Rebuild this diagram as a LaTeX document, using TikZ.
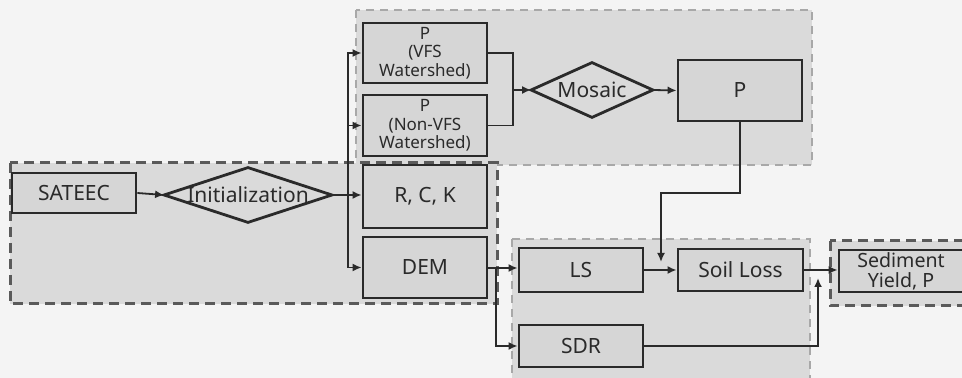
\documentclass[tikz,border=0pt]{standalone}
\usepackage{fontspec}
\setmainfont{Noto Sans}
\usetikzlibrary{arrows.meta}
\definecolor{bgc}{HTML}{F4F4F4}
\definecolor{regc}{HTML}{DADADA}
\definecolor{boxc}{HTML}{D6D6D6}
\definecolor{inkc}{HTML}{2A2A2A}
\definecolor{darkdash}{HTML}{5A5A5A}
\definecolor{lightdash}{HTML}{A8A8A8}
\tikzset{
  regdark/.style={fill=regc, draw=darkdash, line width=1.5pt, dash pattern=on 5pt off 3pt},
  reglight/.style={fill=regc, draw=lightdash, line width=1pt, dash pattern=on 4pt off 3pt},
  boxn/.style={draw=inkc, fill=boxc, line width=1.4pt, inner sep=0pt, align=center,
    font=\fontsize{10.5}{12}\selectfont, text=inkc},
  smalltxt/.style={font=\fontsize{8.5}{9.2}\selectfont},
  sedtxt/.style={font=\fontsize{9.8}{10}\selectfont},
  dianode/.style={draw=none, inner sep=0pt, font=\fontsize{10.5}{12}\selectfont, text=inkc},
  diaborder/.style={draw=inkc, line width=1.4pt, line join=miter},
  conn/.style={draw=inkc, line width=0.9pt},
  arr/.style={conn, -{Latex[length=4.5pt,width=4pt]}}
}
\begin{document}
\begin{tikzpicture}[x=0.5pt, y=-0.5pt]
\useasboundingbox (0,0) rectangle (962,378);
\clip (0,0) rectangle (962,378);
\fill[bgc] (0,0) rectangle (962,378);
% regions
\path[reglight] (356,10) rectangle (812,165);
\path[reglight] (512,239) rectangle (810,400);
\path[regdark] (10,163) rectangle (497,304);
\path[regdark] (830,241) rectangle (1000,306);
% boxes
\node[boxn, minimum width=62pt, minimum height=20pt] (sateec) at (74,193) {SATEEC};
\node[dianode, minimum width=83.5pt, minimum height=27pt] (init) at (248,195) {Initialization};
\node[boxn, minimum width=62pt, minimum height=31.5pt] (rck) at (425,196.5) {R, C, K};
\node[boxn, minimum width=62pt, minimum height=30.5pt] (dem) at (425,267.5) {DEM};
\node[boxn, smalltxt, minimum width=62pt, minimum height=30pt] (pvfs) at (425,53) {P\\(VFS\\Watershed)};
\node[boxn, smalltxt, minimum width=62pt, minimum height=30.5pt] (pnon) at (425,125.5) {P\\(Non-VFS\\Watershed)};
\node[dianode, minimum width=60.5pt, minimum height=27pt] (mosaic) at (592,90) {Mosaic};
\node[boxn, minimum width=62pt, minimum height=30.5pt] (pbox) at (740,90.5) {P};
\node[boxn, minimum width=62pt, minimum height=22pt] (ls) at (581,270) {LS};
\node[boxn, minimum width=62pt, minimum height=21pt] (sdr) at (581,346) {SDR};
\node[boxn, minimum width=62.5pt, minimum height=21pt] (soil) at (740.5,270) {Soil Loss};
\node[boxn, sedtxt, minimum width=62pt, minimum height=21pt] (sed) at (901,271) {Sediment\\Yield, P};
% diamonds
\draw[diaborder] (init.west) -- (init.north) -- (init.east) -- (init.south) -- cycle;
\draw[diaborder] (mosaic.west) -- (mosaic.north) -- (mosaic.east) -- (mosaic.south) -- cycle;
% junction coordinates
\coordinate (br) at (348,195);
\coordinate (mj) at (513,90);
\coordinate (pin) at (661,262);
\coordinate (dj) at (496,268);
\coordinate (sin) at (818,278);
% connectors
\draw[arr] (sateec.east) -- (init.west);
\draw[arr] (init.east) -- (rck.west |- init.east);
\draw[arr] (br) |- (pvfs.west);
\draw[arr] (br) |- (pnon.west);
\draw[arr] (br) |- (dem.west);
\draw[conn] (pvfs.east) -| (mj) |- (pnon.east);
\draw[arr] (mj) -- (mosaic.west);
\draw[arr] (mosaic.east) -- (pbox.west);
\draw[arr] (pbox.south) -- ++(0,71) -| (pin);
\draw[conn] (dem.east |- dj) -- (dj);
\draw[arr] (dj) -- (ls.west |- dj);
\draw[arr] (dj) |- (sdr.west);
\draw[arr] (ls.east) -- (soil.west);
\draw[arr] (soil.east) -- (sed.west |- soil.east);
\draw[arr] (sdr.east) -| (sin);
\end{tikzpicture}
\end{document}
